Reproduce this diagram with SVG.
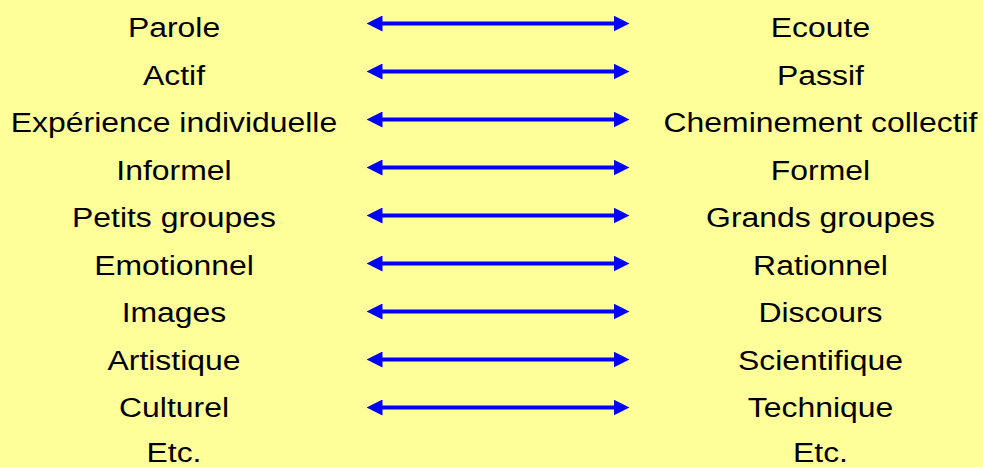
<svg xmlns="http://www.w3.org/2000/svg" width="983" height="467" viewBox="0 0 983 467">
<style>
.t{font-family:"Liberation Sans",Arial,sans-serif;font-size:28px;fill:#000;text-anchor:middle}
.c{stroke:#0000ff;stroke-width:4;fill:none;marker-start:url(#ah);marker-end:url(#ah)}
</style>
<defs>
<marker id="ah" viewBox="0 0 16 16" markerWidth="16" markerHeight="16" refX="0.5" refY="8" orient="auto-start-reverse" markerUnits="userSpaceOnUse">
<path d="M0,0 L16,8 L0,16 z" fill="#0000ff"/>
</marker>
</defs>
<rect width="983" height="467" fill="#ffff99"/>
<g id="left">
<g id="n-parole"><text class="t" transform="translate(174,37) scale(1.14,1)">Parole</text></g>
<g id="n-actif"><text class="t" transform="translate(174,84.5) scale(1.14,1)">Actif</text></g>
<g id="n-experience"><text class="t" transform="translate(174,132) scale(1.14,1)">Expérience individuelle</text></g>
<g id="n-informel"><text class="t" transform="translate(174,179.5) scale(1.14,1)">Informel</text></g>
<g id="n-petits"><text class="t" transform="translate(174,227) scale(1.14,1)">Petits groupes</text></g>
<g id="n-emotionnel"><text class="t" transform="translate(174,274.5) scale(1.14,1)">Emotionnel</text></g>
<g id="n-images"><text class="t" transform="translate(174,322) scale(1.14,1)">Images</text></g>
<g id="n-artistique"><text class="t" transform="translate(174,369.5) scale(1.14,1)">Artistique</text></g>
<g id="n-culturel"><text class="t" transform="translate(174,417) scale(1.14,1)">Culturel</text></g>
<g id="n-etc-left"><text class="t" transform="translate(174,462) scale(1.14,1)">Etc.</text></g>
</g>
<g id="right">
<g id="n-ecoute"><text class="t" transform="translate(820.5,37) scale(1.14,1)">Ecoute</text></g>
<g id="n-passif"><text class="t" transform="translate(820.5,84.5) scale(1.14,1)">Passif</text></g>
<g id="n-cheminement"><text class="t" transform="translate(820.5,132) scale(1.14,1)">Cheminement collectif</text></g>
<g id="n-formel"><text class="t" transform="translate(820.5,179.5) scale(1.14,1)">Formel</text></g>
<g id="n-grands"><text class="t" transform="translate(820.5,227) scale(1.14,1)">Grands groupes</text></g>
<g id="n-rationnel"><text class="t" transform="translate(820.5,274.5) scale(1.14,1)">Rationnel</text></g>
<g id="n-discours"><text class="t" transform="translate(820.5,322) scale(1.14,1)">Discours</text></g>
<g id="n-scientifique"><text class="t" transform="translate(820.5,369.5) scale(1.14,1)">Scientifique</text></g>
<g id="n-technique"><text class="t" transform="translate(820.5,417) scale(1.14,1)">Technique</text></g>
<g id="n-etc-right"><text class="t" transform="translate(820.5,462) scale(1.14,1)">Etc.</text></g>
</g>
<g id="connectors">
<line class="c" x1="382" y1="23.5" x2="614" y2="23.5"/>
<line class="c" x1="382" y1="71.5" x2="614" y2="71.5"/>
<line class="c" x1="382" y1="119.5" x2="614" y2="119.5"/>
<line class="c" x1="382" y1="167.5" x2="614" y2="167.5"/>
<line class="c" x1="382" y1="215.5" x2="614" y2="215.5"/>
<line class="c" x1="382" y1="263.5" x2="614" y2="263.5"/>
<line class="c" x1="382" y1="311.5" x2="614" y2="311.5"/>
<line class="c" x1="382" y1="359.5" x2="614" y2="359.5"/>
<line class="c" x1="382" y1="407.5" x2="614" y2="407.5"/>
</g>
</svg>
